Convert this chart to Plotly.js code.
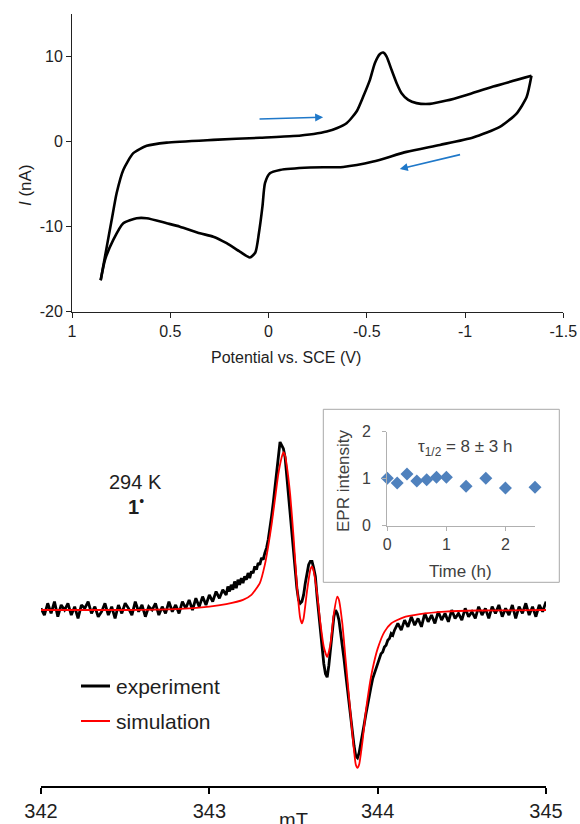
<!DOCTYPE html>
<html><head><meta charset="utf-8">
<script src="https://cdn.plot.ly/plotly-3.0.1.min.js"></script>
<style>html,body{margin:0;padding:0;background:#fff;} #chart{width:580px;height:824px;}</style>
</head><body><div id="chart"></div>
<script>
// ---------- Cyclic voltammogram ----------
const cvUpperE = [0.854, 0.823, 0.798, 0.773, 0.739, 0.688, 0.620, 0.518, 0.281, 0.044, -0.126, -0.230, -0.296, -0.350, -0.397, -0.448, -0.482, -0.516, -0.541, -0.567, -0.584, -0.601, -0.626, -0.652, -0.677, -0.711, -0.753, -0.821, -0.906, -1.008, -1.143, -1.338];
const cvUpperI = [-16.3, -12.35, -9.2, -6.07, -3.33, -1.36, -0.5, -0.12, 0.2, 0.45, 0.65, 0.9, 1.18, 1.6, 2.16, 3.53, 5.3, 7.26, 9.22, 10.3, 10.47, 10.0, 8.44, 6.87, 5.69, 4.9, 4.52, 4.43, 4.82, 5.49, 6.47, 7.73];
const cvLowerE = [-1.338, -1.313, -1.262, -1.177, -1.041, -0.872, -0.702, -0.533, -0.380, -0.211, -0.058, -0.007, 0.018, 0.031, 0.049, 0.067, 0.095, 0.146, 0.213, 0.281, 0.349, 0.451, 0.518, 0.620, 0.671, 0.739, 0.790, 0.832, 0.854];
const cvLowerI = [7.73, 5.2, 3.3, 1.73, 0.49, -0.39, -1.21, -2.35, -2.98, -3.04, -3.33, -3.72, -4.89, -7.65, -10.78, -13.04, -13.62, -12.94, -11.95, -11.18, -10.78, -10.0, -9.6, -9.01, -9.01, -9.6, -11.56, -13.9, -16.3];
const cvXTickVals = [1, 0.5, 0, -0.5, -1, -1.5];
const cvXTickText = ["1", "0.5", "0", "-0.5", "-1", "-1.5"];
const cvYTickVals = [-20, -10, 0, 10];
const cvYTickText = ["-20", "-10", "0", "10"];
// scan-direction arrows: [tailE, tailI, headE, headI]
const cvArrowForward = [0.061, 2.64, -0.278, 2.87];
const cvArrowReverse = [-0.990, -1.45, -0.668, -3.22];

// ---------- EPR spectrum ----------
const eprExpField = [342.00,342.02,342.04,342.06,342.08,342.10,342.12,342.14,342.16,342.18,342.20,342.22,342.24,342.26,342.28,342.30,342.32,342.34,342.36,342.38,342.40,342.42,342.44,342.46,342.48,342.50,342.52,342.54,342.56,342.58,342.60,342.62,342.64,342.66,342.68,342.70,342.72,342.74,342.76,342.78,342.80,342.82,342.84,342.86,342.88,342.90,342.92,342.94,342.96,342.98,343.00,343.02,343.04,343.06,343.08,343.10,
343.11,343.12,343.13,343.14,343.15,343.16,343.17,343.18,343.19,343.20,
343.21,343.22,343.23,343.24,343.25,343.26,343.27,343.28,343.29,343.30,
343.31,343.32,343.33,343.34,343.35,343.36,343.37,343.38,343.39,343.40,
343.41,343.42,343.43,343.44,343.45,343.46,343.47,343.48,343.49,343.50,
343.51,343.52,343.53,343.54,343.55,343.56,343.57,343.58,343.59,343.60,
343.61,343.62,343.63,343.64,343.65,343.66,343.67,343.68,343.69,343.70,
343.71,343.72,343.73,343.74,343.75,343.76,343.77,343.78,343.79,343.80,
343.81,343.82,343.83,343.84,343.85,343.86,343.87,343.88,343.89,343.90,
343.91,343.92,343.93,343.94,343.95,343.96,343.97,343.98,343.99,344.00,
344.01,344.02,344.03,344.04,344.05,344.06,344.07,344.08,344.09,344.10,
344.12,344.14,344.16,344.18,344.20,344.22,344.24,344.26,344.28,344.30,344.32,344.34,344.36,344.38,344.40,344.42,344.44,344.46,344.48,344.50,344.52,344.54,344.56,344.58,344.60,344.62,344.64,344.66,344.68,344.70,344.72,344.74,344.76,344.78,344.80,344.82,344.84,344.86,344.88,344.90,344.92,344.94,344.96,344.98,345.00];
const eprExpSignal = [0.01,-0.03,0.04,-0.02,0.05,-0.04,0.03,0.00,0.04,-0.03,
0.02,-0.05,0.03,0.01,0.05,-0.02,0.02,-0.04,-0.01,0.04,
-0.03,0.02,-0.05,0.03,-0.02,0.04,0.01,-0.03,0.05,-0.01,
0.03,-0.04,0.02,0.00,0.04,-0.03,0.02,-0.02,0.05,-0.01,
0.03,-0.02,0.05,0.01,0.06,0.00,0.07,0.02,0.08,0.03,
0.09,0.05,0.11,0.07,0.12,0.09,
0.14,0.11,0.15,0.12,0.17,0.13,0.18,0.15,0.19,0.16,
0.20,0.18,0.22,0.19,0.23,0.22,0.26,0.24,0.28,0.27,
0.31,0.30,0.34,0.37,0.42,0.48,0.56,0.64,0.74,0.83,
0.93,1.00,0.98,0.96,0.91,0.80,0.67,0.55,0.44,0.32,
0.21,0.13,0.06,0.04,0.05,0.09,0.16,0.23,0.27,0.29,
0.29,0.25,0.20,0.08,-0.03,-0.13,-0.23,-0.32,-0.38,-0.40,
-0.33,-0.22,-0.12,-0.04,0.00,-0.02,-0.06,-0.13,-0.21,-0.29,
-0.38,-0.47,-0.56,-0.64,-0.73,-0.81,-0.87,-0.88,-0.85,-0.80,
-0.74,-0.68,-0.62,-0.56,-0.51,-0.46,-0.41,-0.38,-0.34,-0.31,
-0.29,-0.26,-0.25,-0.22,-0.21,-0.18,-0.17,-0.14,-0.15,-0.12,
-0.08,-0.12,-0.06,-0.10,-0.04,-0.09,-0.05,-0.10,-0.02,-0.07,
-0.03,-0.08,-0.01,-0.06,-0.02,-0.07,0.00,-0.05,-0.02,-0.06,
0.01,-0.04,-0.01,-0.05,0.02,-0.03,0.01,-0.05,0.02,-0.02,
0.03,-0.04,0.01,-0.03,0.03,-0.05,0.02,-0.02,0.04,-0.03,
0.02,-0.04,0.03,-0.01,0.05];
const eprSimField = [342.00,342.50,342.80,343.00,343.10,343.20,343.25,343.30,343.33,343.35,343.37,343.39,343.41,343.43,343.44,343.45,343.46,343.48,343.50,343.52,343.54,343.55,343.56,343.58,343.60,343.61,343.62,343.64,343.66,343.68,343.70,343.72,343.74,343.76,343.77,343.79,343.81,343.83,343.85,343.87,343.88,343.89,343.91,343.93,343.95,343.97,344.00,344.04,344.08,344.15,344.25,344.40,344.60,345.00];
const eprSimSignal = [0.00,0.00,0.005,0.02,0.035,0.06,0.09,0.16,0.27,0.38,0.51,0.66,0.81,0.91,0.94,0.92,0.86,0.69,0.44,0.15,-0.05,-0.08,-0.05,0.11,0.24,0.26,0.23,0.10,-0.08,-0.22,-0.28,-0.20,-0.02,0.08,0.06,-0.08,-0.30,-0.52,-0.74,-0.92,-0.94,-0.92,-0.78,-0.60,-0.46,-0.35,-0.23,-0.13,-0.08,-0.045,-0.025,-0.01,-0.003,0.00];
const eprTickVals = [342, 343, 344, 345];
const eprTickText = ["342", "343", "344", "345"];

// ---------- Inset: EPR intensity vs time ----------
const decayTime = [0, 0.167, 0.333, 0.5, 0.667, 0.833, 1.0, 1.333, 1.667, 2.0, 2.5];
const decayIntensity = [1.01, 0.91, 1.10, 0.95, 0.98, 1.03, 1.03, 0.84, 1.01, 0.80, 0.82];
const insetXTickVals = [0, 1, 2];
const insetYTickVals = [0, 1, 2];
const insetYTickText = ["0", "1", "2"];

// pixel -> paper helpers (layout placement only)
const W = 580, H = 824;
const px = v => v / W;
const py = v => 1 - v / H;

const FONT = "Liberation Sans, Arial, sans-serif";
const TXT = "#1e1e1e";
const GRAYTXT = "#404040";

const traces = [
  {x: cvUpperE, y: cvUpperI, xaxis: 'x', yaxis: 'y', mode: 'lines', line: {color: '#000', width: 2.6, shape: 'spline', smoothing: 0.6}, showlegend: false, hoverinfo: 'skip'},
  {x: cvLowerE, y: cvLowerI, xaxis: 'x', yaxis: 'y', mode: 'lines', line: {color: '#000', width: 2.6, shape: 'spline', smoothing: 0.6}, showlegend: false, hoverinfo: 'skip'},
  {x: eprExpField, y: eprExpSignal, xaxis: 'x2', yaxis: 'y2', mode: 'lines', line: {color: '#000', width: 2.8}, showlegend: false, hoverinfo: 'skip'},
  {x: eprSimField, y: eprSimSignal, xaxis: 'x2', yaxis: 'y2', mode: 'lines', line: {color: '#ff0000', width: 1.8, shape: 'spline', smoothing: 0.5}, showlegend: false, hoverinfo: 'skip'},
  {x: decayTime, y: decayIntensity, xaxis: 'x3', yaxis: 'y3', mode: 'markers', marker: {symbol: 'diamond', size: 10, color: '#4F81BD'}, cliponaxis: false, showlegend: false, hoverinfo: 'skip'}
];

const arrowColor = '#1f78c9';
function arrowAnn(a) {
  return {xref: 'x', yref: 'y', axref: 'x', ayref: 'y', x: a[2], y: a[3], ax: a[0], ay: a[1],
    showarrow: true, arrowhead: 2, arrowsize: 1, arrowwidth: 1.6, arrowcolor: arrowColor, standoff: 0, startstandoff: 0, text: ' '};
}
function label(x, y, text, size, color, extra) {
  return Object.assign({xref: 'paper', yref: 'paper', x: px(x), y: py(y), xanchor: 'center', yanchor: 'middle',
    text: text, showarrow: false, font: {size: size, color: color, family: FONT}}, extra || {});
}
// inset y tick labels placed on the inset's own y scale
const insetYLabels = insetYTickVals.map((v, i) => ({xref: 'paper', yref: 'y3', x: px(373), y: v, xanchor: 'right', yanchor: 'middle',
  text: insetYTickText[i], showarrow: false, font: {size: 16, color: GRAYTXT, family: FONT}}));

const layout = {
  width: W, height: H,
  margin: {l: 0, r: 0, t: 0, b: 0},
  paper_bgcolor: '#fff', plot_bgcolor: 'rgba(0,0,0,0)',
  font: {family: FONT, color: TXT},
  xaxis: {domain: [px(72), px(563.3)], anchor: 'y', range: [1, -1.5], tickvals: cvXTickVals, ticktext: cvXTickText,
    ticks: 'outside', ticklen: 5, tickcolor: '#222', showline: true, linecolor: '#222', linewidth: 1,
    showgrid: false, zeroline: false, tickfont: {size: 16, color: TXT, family: FONT}, fixedrange: true},
  yaxis: {domain: [py(311.7), py(14)], anchor: 'x', range: [-20, 15], tickvals: cvYTickVals, ticktext: cvYTickText,
    ticks: 'outside', ticklen: 5, tickcolor: '#222', showline: true, linecolor: '#222', linewidth: 1,
    showgrid: false, zeroline: false, tickfont: {size: 16, color: TXT, family: FONT}, fixedrange: true},
  xaxis2: {domain: [px(41), px(546)], anchor: 'y2', range: [342, 345], tickvals: eprTickVals, ticktext: eprTickText,
    ticks: 'outside', ticklen: 6, tickwidth: 2, tickcolor: '#000', showline: true, linecolor: '#000', linewidth: 2,
    showgrid: false, zeroline: false, tickfont: {size: 20, color: TXT, family: FONT}, fixedrange: true},
  yaxis2: {domain: [py(786), py(420)], anchor: 'x2', range: [-1.0476, 1.131], visible: false, fixedrange: true},
  xaxis3: {domain: [px(387.3), px(535)], anchor: 'y3', range: [0, 2.5], tickvals: insetXTickVals,
    ticks: 'outside', ticklen: 4, tickcolor: '#b0b0b0', showline: true, linecolor: '#b0b0b0', linewidth: 1,
    showgrid: false, zeroline: false, tickfont: {size: 16, color: GRAYTXT, family: FONT}, fixedrange: true},
  yaxis3: {domain: [py(525.7), py(431.7)], anchor: 'x3', range: [0, 2], tickvals: insetYTickVals,
    ticks: 'outside', ticklen: 4, tickcolor: '#b0b0b0', showline: true, linecolor: '#b0b0b0', linewidth: 1,
    showticklabels: false,
    showgrid: false, zeroline: false, fixedrange: true},
  shapes: [
    {type: 'rect', xref: 'paper', yref: 'paper', x0: px(323.3), x1: px(559.3), y0: py(582.3), y1: py(409.3),
      line: {color: '#a8a8a8', width: 1}, fillcolor: 'rgba(0,0,0,0)', layer: 'below'},
    {type: 'line', xref: 'paper', yref: 'paper', x0: px(81), x1: px(110), y0: py(686), y1: py(686), line: {color: '#000', width: 3}},
    {type: 'line', xref: 'paper', yref: 'paper', x0: px(81), x1: px(110), y0: py(721), y1: py(721), line: {color: '#ff0000', width: 2}}
  ],
  annotations: [
    label(25, 185, '<i>I</i> (nA)', 17, TXT, {textangle: -90}),
    label(286, 358, 'Potential vs. SCE (V)', 16, TXT),
    arrowAnn(cvArrowForward),
    arrowAnn(cvArrowReverse),
    label(135, 482, '294 K', 20, TXT),
    label(136, 506, '<b>1</b><sup>•</sup>', 20, TXT),
    label(114, 686, 'experiment', 21, TXT, {xanchor: 'left'}),
    label(114, 721, 'simulation', 21, TXT, {xanchor: 'left'}),
    label(293, 820, 'mT', 20, TXT),
    label(343, 481, 'EPR intensity', 17, GRAYTXT, {textangle: -90}),
    label(460, 571, 'Time (h)', 17, GRAYTXT),
    label(465, 448, 'τ<sub>1/2</sub> = 8 ± 3 h', 17, GRAYTXT)
  ].concat(insetYLabels)
};

Plotly.newPlot('chart', traces, layout, {staticPlot: true, displayModeBar: false});
</script></body></html>
